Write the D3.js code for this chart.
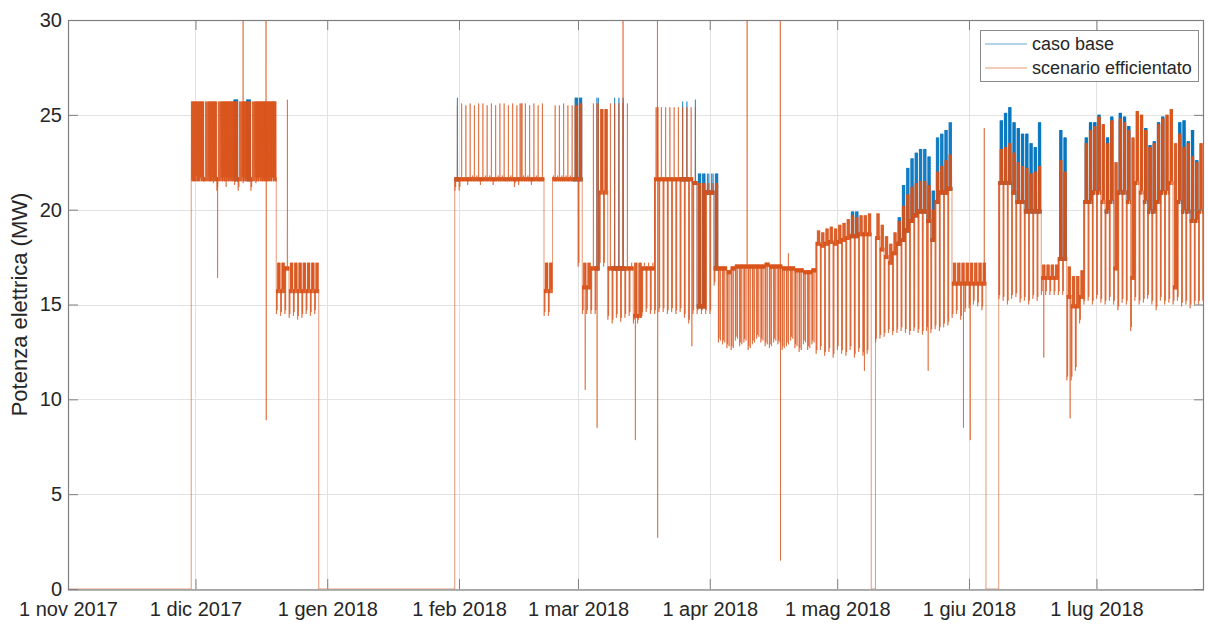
<!DOCTYPE html>
<html><head><meta charset="utf-8">
<script src="https://cdn.jsdelivr.net/npm/d3@7"></script>
<style>
body{margin:0;background:#fff}
svg{display:block}
text{font-family:"Liberation Sans",Arial,Helvetica,sans-serif;fill:#262626}
</style>
</head><body>
<svg id="c" width="1208" height="624"></svg>
<script>
// ---------- DATA (daily readings, day 0 = 1 nov 2017) ----------
const startDate = Date.UTC(2017, 10, 1);
const lastDay = 267.3;

// daily peak of "scenario efficientato" (MW)
const effPeak = [
0,0,0,0,0,0,0,0,0,0,
0,0,0,0,0,0,0,0,0,0,
0,0,0,0,0,0,0,0,0,25.7,
25.7,25.7,25.7,25.7,25.7,25.7,25.7,25.7,25.7,25.7,
25.7,25.7,25.7,25.7,25.7,25.7,25.7,25.7,25.7,17.2,
17.2,25.8,17.2,17.2,17.2,17.2,17.2,17.2,17.2,0,
0,0,0,0,0,0,0,0,0,0,
0,0,0,0,0,0,0,0,0,0,
0,0,0,0,0,0,0,0,0,0,
0,25.5,25.6,25.5,25.6,25.5,25.6,25.6,25.5,25.6,
25.5,25.6,25.6,25.5,25.6,25.5,25.6,25.6,25.5,25.6,
25.5,25.6,17.2,17.2,25.5,25.5,25.6,25.5,25.5,25.5,
25.6,17.2,17.2,25.6,25.6,25.3,25.3,25.6,25.6,25.6,
25.6,25.6,17.2,17.2,17.2,17.2,17.2,17.2,25.4,25.4,
25.4,25.4,25.4,25.4,25.4,25.4,25.4,25.4,21.4,21.4,
21.4,21.4,21.4,17.0,17.0,16.8,17.0,17.1,17.1,17.1,
17.1,17.1,17.1,17.1,17.2,17.1,17.1,17.1,17.0,17.0,
17.0,16.9,16.9,16.8,16.8,16.9,18.9,18.8,19.0,19.1,
19.0,19.2,19.3,19.5,19.7,19.6,19.7,19.7,19.8,0,
19.8,19.2,18.6,18.2,18.8,19.4,20.2,20.8,21.2,21.4,
21.5,21.5,21.3,20.0,22.0,22.3,22.6,22.9,17.2,17.2,
17.2,17.2,17.2,17.2,17.2,17.2,0,0,0,23.2,
23.3,23.5,23.0,22.5,22.3,22.2,21.9,22.0,22.3,17.1,
17.1,17.1,17.1,22.6,22.0,17.0,16.5,16.5,16.8,23.5,
24.2,24.4,24.9,24.5,23.5,24.7,22.5,24.8,24.6,24.2,
23.8,25.2,25.0,24.2,23.3,23.5,24.5,24.8,25.0,25.3,
23.5,24.0,23.3,23.5,22.8,22.5,23.5,24.0
];

// daily level where the load mostly sits (MW)
const effDwell = [
0,0,0,0,0,0,0,0,0,0,
0,0,0,0,0,0,0,0,0,0,
0,0,0,0,0,0,0,0,0,21.7,
21.7,21.7,21.7,21.7,21.7,21.7,21.7,21.7,21.7,21.7,
21.7,21.7,21.7,21.7,21.7,21.7,21.7,21.7,21.7,15.8,
15.8,17.0,15.8,15.8,15.8,15.8,15.8,15.8,15.8,0,
0,0,0,0,0,0,0,0,0,0,
0,0,0,0,0,0,0,0,0,0,
0,0,0,0,0,0,0,0,0,0,
0,21.7,21.7,21.7,21.7,21.7,21.7,21.7,21.7,21.7,
21.7,21.7,21.7,21.7,21.7,21.7,21.7,21.7,21.7,21.7,
21.7,21.7,15.8,15.8,21.7,21.7,21.7,21.7,21.7,21.7,
21.7,16.0,16.0,17.0,17.0,21.0,21.0,17.0,17.0,17.0,
17.0,17.0,17.0,14.5,14.5,17.0,17.0,17.0,21.7,21.7,
21.7,21.7,21.7,21.7,21.7,21.7,21.7,21.5,15.0,15.0,
21.0,21.0,17.0,17.0,17.0,16.8,17.0,17.1,17.1,17.1,
17.1,17.1,17.1,17.1,17.2,17.1,17.1,17.1,17.0,17.0,
17.0,16.9,16.9,16.8,16.8,16.9,18.3,18.2,18.3,18.4,
18.3,18.4,18.5,18.6,18.7,18.7,18.8,18.8,18.8,0,
18.6,18.0,17.6,17.3,17.8,18.3,18.5,19.0,19.5,19.8,
20.0,20.0,19.5,18.5,20.5,21.0,21.0,21.2,16.2,16.2,
16.2,16.2,16.2,16.2,16.2,16.2,0,0,0,21.5,
21.5,21.5,21.0,20.5,20.5,20.0,20.0,20.0,20.0,16.5,
16.5,16.5,16.5,17.5,17.5,15.5,15.0,15.0,15.5,20.5,
20.5,21.0,21.0,20.5,20.0,20.5,17.0,21.0,21.0,20.5,
16.5,21.5,21.0,20.5,20.0,20.0,20.5,21.0,21.0,21.5,
16.0,20.5,20.0,20.0,19.5,19.5,20.0,20.0
];

// daily minimum (MW)
const effLow = [
0,0,0,0,0,0,0,0,0,0,
0,0,0,0,0,0,0,0,0,0,
0,0,0,0,0,0,0,0,0,21.4,
21.6,21.5,21.7,21.3,21.2,21.0,21.3,21.0,21.4,21.1,
21.0,21.2,21.3,21.0,21.2,21.6,21.7,21.7,21.6,14.5,
14.4,14.5,14.3,14.4,14.2,14.3,14.5,14.4,14.5,0,
0,0,0,0,0,0,0,0,0,0,
0,0,0,0,0,0,0,0,0,0,
0,0,0,0,0,0,0,0,0,0,
0,21.0,21.0,21.5,21.3,21.6,21.6,21.3,21.6,21.6,
21.3,21.6,21.6,21.5,21.6,21.2,21.3,21.6,21.6,21.3,
21.6,21.5,14.4,14.4,21.6,21.6,21.6,21.6,21.6,21.5,
17.0,14.5,14.5,14.5,14.5,17.0,17.0,14.2,14.0,14.3,
14.1,14.3,14.4,14.0,14.0,14.4,14.6,14.5,14.5,14.6,
14.6,14.5,14.6,14.5,14.6,14.3,14.0,14.5,14.5,14.5,
14.5,14.5,16.0,13.0,12.9,12.7,12.6,13.1,12.8,13.0,
12.6,12.9,13.2,13.0,12.8,12.7,13.0,12.9,12.6,12.8,
13.1,12.7,12.5,12.9,12.6,12.9,12.4,12.6,12.3,12.5,
12.2,12.6,12.4,12.3,12.6,12.2,12.5,12.3,12.4,0,
13.0,13.2,13.3,13.5,13.4,13.5,13.6,13.5,13.4,13.6,
13.5,13.4,13.6,13.5,13.7,13.6,13.8,13.9,14.3,14.5,
14.2,14.6,14.8,15.0,14.9,14.7,0,0,0,15.3,
15.2,15.0,15.3,15.4,15.1,15.2,15.0,15.3,15.2,15.5,
15.5,15.5,15.5,15.5,15.5,11.0,11.0,11.5,14.0,15.0,
15.2,15.0,15.3,15.1,15.0,15.2,15.0,14.7,15.1,15.0,
13.6,15.2,15.0,15.1,15.3,15.0,14.7,15.2,15.0,15.1,
15.0,15.2,14.9,15.0,14.8,15.0,15.0,15.2
];

// number of swings between dwell and peak in each day
const swings = [
0,0,0,0,0,0,0,0,0,0,
0,0,0,0,0,0,0,0,0,0,
0,0,0,0,0,0,0,0,0,9,
9,10,4,9,10,4,10,10,10,10,
4,10,10,4,10,10,10,10,10,6,
6,1,6,6,6,6,6,6,5,0,
0,0,0,0,0,0,0,0,0,0,
0,0,0,0,0,0,0,0,0,0,
0,0,0,0,0,0,0,0,0,0,
0,1,1,1,1,1,1,1,1,1,
1,1,1,1,1,1,3,1,1,1,
1,1,6,6,1,1,1,1,1,5,
5,5,5,1,2,6,6,1,1,1,
1,1,1,5,5,1,1,1,3,1,
1,1,1,1,1,1,1,1,5,5,
2,2,5,0,0,0,0,0,0,0,
0,0,0,0,0,0,0,0,0,0,
0,0,0,0,0,0,5,5,5,5,
5,5,5,5,5,5,5,5,5,0,
5,5,5,5,5,5,5,5,5,5,
5,5,5,5,5,5,5,5,5,5,
5,5,5,5,5,5,0,0,0,6,
6,6,6,6,6,6,6,6,6,5,
5,5,5,6,6,5,5,5,5,6,
7,7,7,7,7,7,5,7,7,7,
5,7,7,7,7,7,7,7,7,7,
5,7,7,7,7,7,7,7
];

// days where "caso base" peaks above "scenario efficientato"
const baseDays = [39,42,91,119,120,124,128,129,130,144,145,147,148,149,150,151,152,
  184,185,195,196,197,198,199,200,201,202,203,204,205,206,207,
  219,220,221,222,223,224,225,226,227,228,233,234,239,240,241,242,244,245,247,248,249,
  253,254,255,256,257,261,262,263,264,265];
const basePeaks = [25.8,25.8,25.9,25.9,25.9,25.9,25.9,25.9,25.9,25.7,25.7,25.8,21.9,21.9,21.9,21.9,21.9,
  19.9,19.9,19.6,21.3,22.2,22.7,23.0,23.2,23.2,22.8,21.0,23.8,24.0,24.2,24.6,
  24.7,25.1,25.4,24.6,24.3,24.0,24.0,23.5,23.3,24.6,24.2,23.8,23.8,24.6,24.6,25.0,23.8,24.9,25.1,24.9,24.4,
  24.3,23.4,23.6,24.6,24.9,24.6,24.7,23.6,24.2,22.6];

// isolated short excursions (day, MW)
const spikeDays   = [35.2,41.2,46.6,46.65,121.7,124.5,130.6,133.5,138.7,138.75,146.8,159.8,167.6,167.65,169.5,187.4,202.4,210.7,212.3,215.6,229.6,235.8];
const spikeValues = [16.4,30,30,8.9,10.5,8.5,30,7.85,30,2.7,12.8,30,30,1.5,17.7,11.5,11.5,8.5,7.85,24.3,12.2,9.0];

// thickness of the hourly ripple around the dwell level (MW)
const dwellRipple = 0.2;

const monthTicks  = ["2017-11-01","2017-12-01","2018-01-01","2018-02-01","2018-03-01","2018-04-01","2018-05-01","2018-06-01","2018-07-01"];
const monthLabels = ["1 nov 2017","1 dic 2017","1 gen 2018","1 feb 2018","1 mar 2018","1 apr 2018","1 mag 2018","1 giu 2018","1 lug 2018"];
const yTicks = [0,5,10,15,20,25,30];
const seriesNames  = ["caso base","scenario efficientato"];
const seriesColors = ["#0072BD","#D95319"];
const yTitle = "Potenza elettrica (MW)";

// ---------- BUILD ----------
const DAY = 864e5;
const basePeakArr = effPeak.slice();
baseDays.forEach((d,i)=>{ basePeakArr[d] = basePeaks[i]; });
const baseDaySet = new Set(baseDays);

// hourly profile of one day built from the daily readings
// (for "caso base" only the days where it differs are drawn; elsewhere it lies under the orange line)
function buildSeries(peaks, onlyDays){
  const pts = [];
  for (let d = 0; d < peaks.length; d++){
    if (onlyDays && !onlyDays.has(d)) { pts.push([d, null]); continue; }
    const P = peaks[d], W = effDwell[d], L = onlyDays ? effDwell[d] : effLow[d], n = swings[d];
    const day = [];
    if (P === 0 && W === 0){ day.push([d,0],[d+0.999,0]); }
    else {
      const hours = [];
      for (let h = 0; h < 24; h++) hours.push(h % 2 ? W - dwellRipple : W);
      if (L < W - 0.05) {
        hours[1] = L; hours[2] = W;
        hours[5] = L + 0.2; hours[6] = W;
        if (n === 0) { hours[13] = L + 0.1; hours[14] = W; }
      }
      const start = n >= 8 ? 0 : 7, span = n >= 8 ? 24 : 16;
      for (let k = 0; k < n; k++){
        const h = Math.floor(start + span * (k + 0.5) / n);
        hours[Math.min(h,23)] = P;
      }
      hours.forEach((v,h)=> day.push([d + h/24, v]));
      day.push([d + 0.999, W]);
    }
    if (!onlyDays) {
      spikeDays.forEach((s,i)=>{
        if (s >= d && s < d+1){ day.push([s-0.004,W],[s,spikeValues[i]],[s+0.004,W]); }
      });
    }
    day.sort((a,b)=>a[0]-b[0]);
    pts.push(...day);
  }
  return pts.filter(p=>p[0] <= lastDay);
}

const svg = d3.select("#c");
const M = {l:68, r:1204, t:20, b:589};
const x = d3.scaleUtc().domain([new Date(startDate), new Date(startDate + lastDay*DAY)]).range([M.l, M.r]);
const y = d3.scaleLinear().domain([0,30]).range([M.b, M.t]);
const tickDates = monthTicks.map(s=>new Date(s));

// grid
const grid = svg.append("g").attr("stroke","#e2e2e2").attr("stroke-width",1);
grid.selectAll("line.v").data(tickDates).join("line")
  .attr("x1",d=>Math.round(x(d))+0.5).attr("x2",d=>Math.round(x(d))+0.5)
  .attr("y1",M.t).attr("y2",M.b);
grid.selectAll("line.h").data(yTicks).join("line")
  .attr("x1",M.l).attr("x2",M.r)
  .attr("y1",d=>Math.round(y(d))+0.5).attr("y2",d=>Math.round(y(d))+0.5);

// clip
svg.append("clipPath").attr("id","clip").append("rect")
  .attr("x",M.l).attr("y",M.t-1).attr("width",M.r-M.l).attr("height",M.b-M.t+1);

const line = d3.line().defined(p=>p[1] !== null)
  .x(p=>x(new Date(startDate + p[0]*DAY))).y(p=>y(p[1]));
const plot = svg.append("g").attr("clip-path","url(#clip)");
[[basePeakArr, baseDaySet], [effPeak, null]].forEach(([arr, only],i)=>{
  plot.append("path").datum(buildSeries(arr, only))
    .attr("fill","none").attr("stroke",seriesColors[i])
    .attr("stroke-width",0.6).attr("stroke-linejoin","miter")
    .attr("d",line);
});

// axes
const axisColor = "#7f7f7f";
function styleAxis(g){
  g.select(".domain").remove();
  g.selectAll(".tick line").attr("stroke",axisColor);
  g.selectAll(".tick text").attr("fill","#262626").style("font-size","20px")
    .style("font-family",'"Liberation Sans",Arial,sans-serif');
}
svg.append("g").attr("transform",`translate(0,${M.b})`)
  .call(d3.axisBottom(x).tickValues(tickDates).tickFormat((d,i)=>monthLabels[i]).tickSizeInner(-10).tickSizeOuter(0).tickPadding(13))
  .call(styleAxis);
svg.append("g").attr("transform",`translate(0,${M.t})`)
  .call(d3.axisTop(x).tickValues(tickDates).tickFormat("").tickSizeInner(-10).tickSizeOuter(0))
  .call(styleAxis);
svg.append("g").attr("transform",`translate(${M.l},0)`)
  .call(d3.axisLeft(y).tickValues(yTicks).tickFormat(d3.format("d")).tickSizeInner(-10).tickSizeOuter(0).tickPadding(6))
  .call(styleAxis);
svg.append("g").attr("transform",`translate(${M.r},0)`)
  .call(d3.axisRight(y).tickValues(yTicks).tickFormat("").tickSizeInner(-10).tickSizeOuter(0))
  .call(styleAxis);

svg.append("rect").attr("x",M.l+0.5).attr("y",M.t+0.5).attr("width",M.r-M.l-1).attr("height",M.b-M.t+0.5)
  .attr("fill","none").attr("stroke",axisColor).attr("stroke-width",1.2);

// y title
svg.append("text").attr("transform",`translate(27,${(M.t+M.b)/2}) rotate(-90)`)
  .attr("text-anchor","middle").style("font-size","22px").text(yTitle);

// legend
const lg = svg.append("g");
lg.append("rect").attr("x",980.5).attr("y",30.5).attr("width",218).attr("height",51)
  .attr("fill","#fff").attr("stroke","#8a8a8a").attr("stroke-width",1);
seriesNames.forEach((name,i)=>{
  const yy = 44 + i*24;
  lg.append("line").attr("x1",985).attr("x2",1027).attr("y1",yy).attr("y2",yy)
    .attr("stroke",seriesColors[i]).attr("stroke-width",1).attr("stroke-opacity",0.6);
  lg.append("text").attr("x",1032).attr("y",yy).attr("dy","0.35em")
    .style("font-size","18px").text(name);
});
</script>
</body></html>
